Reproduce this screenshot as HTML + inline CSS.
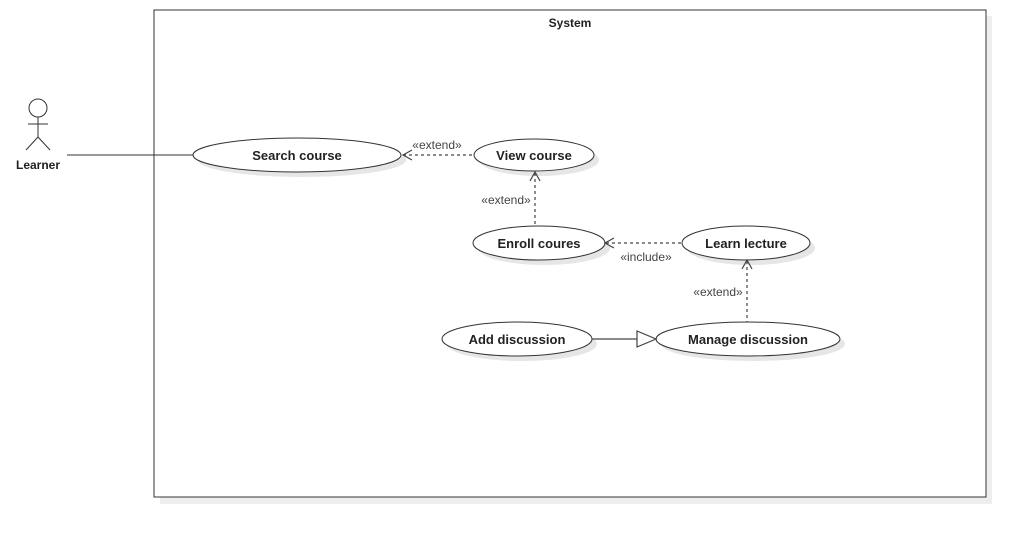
<!DOCTYPE html>
<html><head><meta charset="utf-8"><style>
html,body{margin:0;padding:0;background:#fff;width:1026px;height:538px;overflow:hidden}
text{font-family:"Liberation Sans",sans-serif}
.b{font-weight:bold;font-size:13px;fill:#222}
.s{font-size:12px;fill:#444}
</style></head><body>
<svg width="1026" height="538" viewBox="0 0 1026 538" xmlns="http://www.w3.org/2000/svg">
<rect x="160" y="16" width="832" height="488" fill="#eee"/>
<rect x="154" y="10" width="832" height="487" fill="#fff" stroke="#333" stroke-width="1"/>
<text x="570" y="27" text-anchor="middle" class="b" style="font-size:12px">System</text>
<!-- actor -->
<g stroke="#333" fill="none" stroke-width="1">
<circle cx="38" cy="108" r="9" fill="#fff"/>
<line x1="38" y1="117" x2="38" y2="137"/>
<line x1="28" y1="124" x2="48" y2="124"/>
<line x1="38" y1="137" x2="26" y2="150"/>
<line x1="38" y1="137" x2="50" y2="150"/>
<line x1="67" y1="155" x2="193" y2="155"/>
</g>
<text x="38" y="169" text-anchor="middle" class="b" style="font-size:12px">Learner</text>
<!-- shadows -->
<g fill="#e6e6e6">
<ellipse cx="302" cy="160" rx="104" ry="17"/>
<ellipse cx="539" cy="160" rx="60" ry="16"/>
<ellipse cx="544" cy="248" rx="66" ry="17"/>
<ellipse cx="751" cy="248" rx="64" ry="17"/>
<ellipse cx="522" cy="344" rx="75" ry="17"/>
<ellipse cx="753" cy="344" rx="92" ry="17"/>
</g>
<g fill="#fff" stroke="#333" stroke-width="1">
<ellipse cx="297" cy="155" rx="104" ry="17"/>
<ellipse cx="534" cy="155" rx="60" ry="16"/>
<ellipse cx="539" cy="243" rx="66" ry="17"/>
<ellipse cx="746" cy="243" rx="64" ry="17"/>
<ellipse cx="517" cy="339" rx="75" ry="17"/>
<ellipse cx="748" cy="339" rx="92" ry="17"/>
</g>
<text x="297" y="160" text-anchor="middle" class="b">Search course</text>
<text x="534" y="160" text-anchor="middle" class="b">View course</text>
<text x="539" y="248" text-anchor="middle" class="b">Enroll coures</text>
<text x="746" y="248" text-anchor="middle" class="b">Learn lecture</text>
<text x="517" y="344" text-anchor="middle" class="b">Add discussion</text>
<text x="748" y="344" text-anchor="middle" class="b">Manage discussion</text>
<!-- connectors -->
<g stroke="#444" fill="none" stroke-width="1.2" stroke-dasharray="3,3">
<line x1="403" y1="155" x2="474" y2="155"/>
<line x1="535" y1="173" x2="535" y2="226"/>
<line x1="606" y1="243" x2="682" y2="243"/>
<line x1="747" y1="261" x2="747" y2="322"/>
</g>
<g stroke="#444" fill="none" stroke-width="1.2">
<polyline points="412,150 403,155 412,160"/>
<polyline points="530,181 535,172 540,181"/>
<polyline points="614,238 605,243 614,248"/>
<polyline points="742,269 747,260 752,269"/>
<line x1="592" y1="339" x2="637" y2="339"/>
<polygon points="637,331 637,347 656,339" fill="#fff"/>
</g>
<text x="437" y="149" text-anchor="middle" class="s">«extend»</text>
<text x="506" y="204" text-anchor="middle" class="s">«extend»</text>
<text x="646" y="261" text-anchor="middle" class="s">«include»</text>
<text x="718" y="296" text-anchor="middle" class="s">«extend»</text>
</svg>
</body></html>
